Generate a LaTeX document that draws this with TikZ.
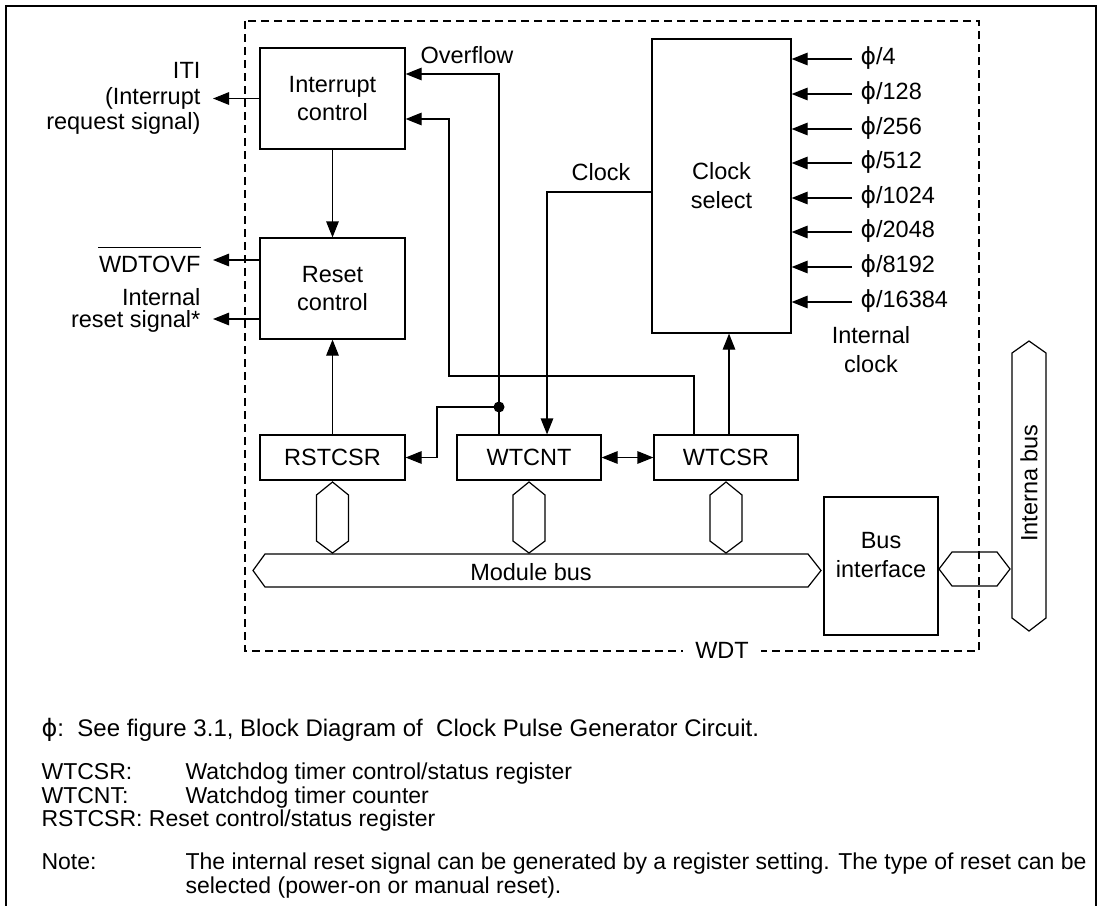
\documentclass[tikz,border=0pt]{standalone}
\usepackage{fontspec}
\setmainfont{Liberation Sans}
\newfontfamily\phifont{DejaVu Sans}
\usetikzlibrary{arrows.meta}
\newcommand{\ph}{{\phifont ϕ}}
\begin{document}
\begin{tikzpicture}[x=1pt,y=-1pt,line width=1.2pt,
  every node/.style={font=\fontsize{23.5}{28}\selectfont, inner sep=0pt},
  box/.style={draw, rectangle, align=center, line width=1.2pt},
  arr/.style={-{Triangle[length=16pt,width=12.5pt]}},
  darr/.style={{Triangle[length=16pt,width=12.5pt]}-{Triangle[length=16pt,width=12.5pt]}},
  lbl/.style={anchor=base east},
  foot/.style={anchor=base west, font=\fontsize{23}{27}\selectfont},
  dash box/.style={line width=1.1pt, dash pattern=on 8pt off 5pt}]
\useasboundingbox (0,0) rectangle (1102,905);
% outer frame
\draw[line width=2pt] (6,915) -- (6,6) -- (1096,6) -- (1096,915);
% WDT dashed box
\draw[dash box] (245,21) rectangle (979,651);
\node[fill=white, inner xsep=12pt, inner ysep=3pt] (wdt) at (722,650) {WDT};

% blocks
\node[box, minimum width=145pt, minimum height=101pt] (ic) at (332.5,98.5) {Interrupt\\control};
\node[box, minimum width=145pt, minimum height=101pt] (rc) at (332.5,288.5) {Reset\\control};
\node[box, minimum width=145pt, minimum height=45pt] (rst) at (332.5,457.5) {RSTCSR};
\node[box, minimum width=144pt, minimum height=45pt] (cnt) at (529,457.5) {WTCNT};
\node[box, minimum width=144pt, minimum height=45pt] (csr) at (726,457.5) {WTCSR};
\node[box, minimum width=139pt, minimum height=294pt, font=\fontsize{23.5}{29}\selectfont] (cs) at (721.5,186) {Clock\\select};
\node[box, minimum width=114pt, minimum height=138pt,
  label={[align=center, font=\fontsize{23.5}{29}\selectfont, yshift=11pt]center:Bus\\interface}] (bi) at (881,566) {};

% left outputs
\coordinate (oITI) at (213,98.5);
\coordinate (oWDT) at (213,260);
\coordinate (oRST) at (213,319);
\draw[arr] (oITI -| ic.west) -- (oITI);
\draw[arr] (oWDT -| rc.west) -- (oWDT);
\draw[arr] (oRST -| rc.west) -- (oRST);
\node[lbl] (t1) at (201,78) {ITI};
\node[lbl] (t2) at (201,104) {(Interrupt};
\node[lbl] (t3) at (201,129) {request signal)};
\node[lbl] (t4) at (201,272) {WDTOVF};
\draw[line width=1pt] ([yshift=7pt]t4.north west) -- ([yshift=7pt]t4.north east);
\node[lbl] (t5) at (201,305) {Internal};
\node[lbl] (t6) at (201,327) {reset signal*};

% vertical arrows
\draw[arr] (ic.south) -- (rc.north);
\draw[arr] (rst.north) -- (rc.south);

% overflow
\coordinate (ov) at (499,74);
\coordinate (dot) at (499,407);
\draw[arr] (cnt.north -| ov) -- (ov) -- (ov -| ic.east);
\node[anchor=base west] (ovl) at (420,63) {Overflow};
\fill (dot) circle (5.5pt);
\coordinate (br) at (437,407);
\draw[arr] (dot) -- (br) -- (br |- rst.east) -- (rst.east);

% WTCSR to interrupt control
\coordinate (c1) at (694,376);
\coordinate (c2) at (449,376);
\coordinate (c3) at (449,119);
\draw[arr] (csr.north -| c1) -- (c1) -- (c2) -- (c3) -- (c3 -| ic.east);

% clock
\coordinate (ck) at (547,192);
\draw[arr] (ck -| cs.west) -- (ck) -- (ck |- cnt.north);
\node[anchor=base] (ckl) at (601,180) {Clock};

% WTCSR -> clock select
\draw[arr] (csr.north -| 729,0) -- (cs.south -| 729,0);
% WTCNT <-> WTCSR
\draw[darr] (cnt.east) -- (csr.west);

% clock inputs
\foreach \v/\yy [count=\i] in {4/59,128/94,256/129,512/163,1024/198,2048/232,8192/267,16384/302}{
  \coordinate (in\i) at (852,\yy);
  \draw[arr] (in\i) -- (in\i -| cs.east);
  \node[anchor=base west] (lab\i) at (860,\yy+5) {\ph/\v};
}
\node[anchor=base] (icl1) at (871,343) {Internal};
\node[anchor=base] (icl2) at (871,372) {clock};

% small register buses
\foreach \c in {332.5,529,726}{
  \draw (\c,482) -- (\c+16,495) -- (\c+16,541) -- (\c,553) -- (\c-16,541) -- (\c-16,495) -- cycle;
}
% module bus
\draw (253,570.5) -- (265,554) -- (808,554) -- (821,570.5) -- (808,587) -- (265,587) -- cycle;
\node[anchor=base] (mb) at (531,580) {Module bus};
% bus interface link
\draw (939,569) -- (952,552) -- (997,552) -- (1010,569) -- (997,586) -- (952,586) -- cycle;
% internal bus
\draw (1029,341) -- (1046,353) -- (1046,618) -- (1029,631) -- (1012,618) -- (1012,353) -- cycle;
\node[rotate=90] (ib) at (1029,483) {Interna bus};

% footnotes
\node[foot, font=\fontsize{24}{28}\selectfont] (f1) at (41,736) {\ph:\ \ See figure 3.1, Block Diagram of\ \ Clock Pulse Generator Circuit.};
\node[foot] (f2a) at (41,779) {WTCSR:};
\node[foot] (f2b) at (185,779) {Watchdog timer control/status register};
\node[foot] (f3a) at (41,803) {WTCNT:};
\node[foot] (f3b) at (185,803) {Watchdog timer counter};
\node[foot] (f4) at (41,826) {RSTCSR:\ Reset control/status register};
\node[foot] (f5a) at (41,869) {Note:};
\node[foot] (f5b) at (185,869) {The internal reset signal can be generated by a register setting. The type of reset can be};
\node[foot] (f6) at (185,893) {selected (power-on or manual reset).};
\end{tikzpicture}
\end{document}
